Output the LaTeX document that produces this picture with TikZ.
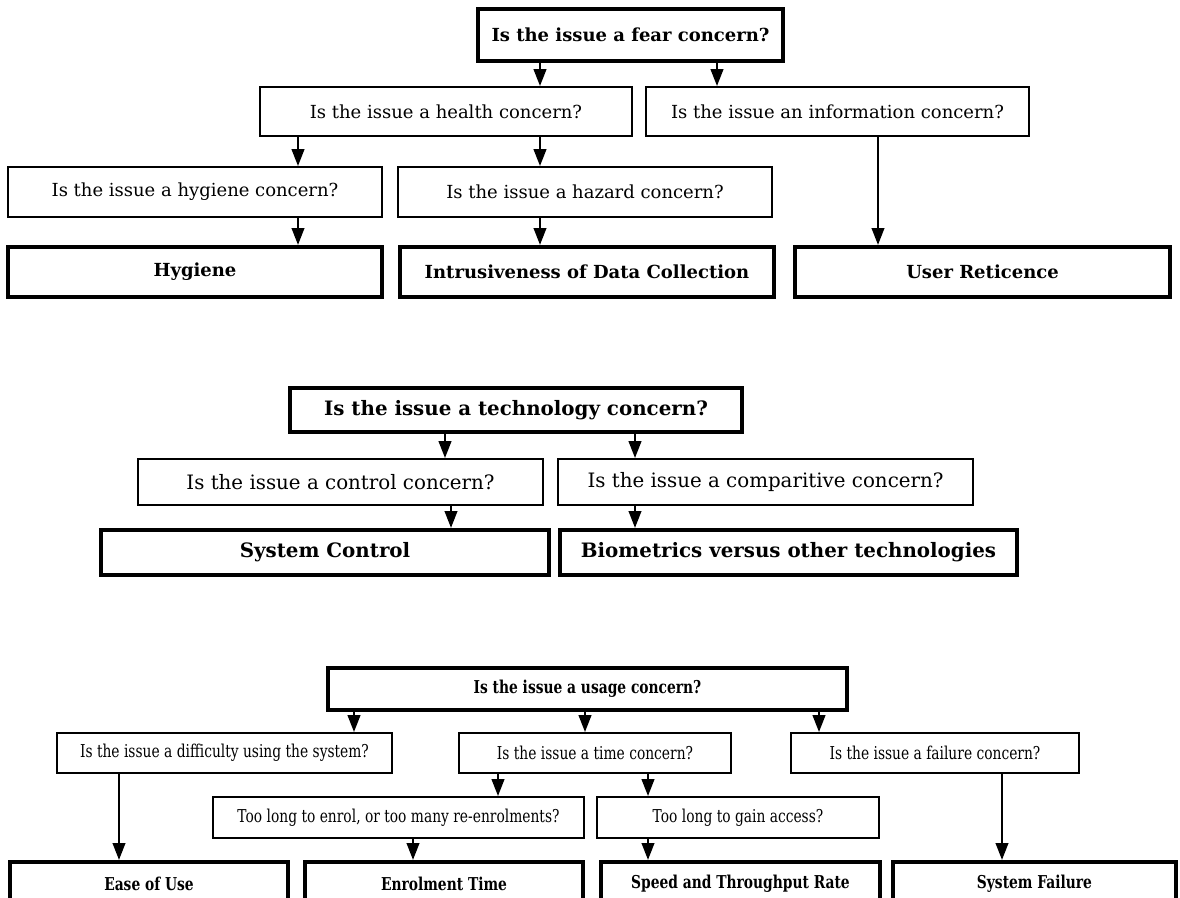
\documentclass[tikz,border=0pt]{standalone}
\usepackage{fontspec}
\setmainfont{DejaVu Serif}
\newfontfamily\narrowfont[FakeStretch=0.78]{DejaVu Serif}
\usepackage{tikz}
\usetikzlibrary{arrows.meta}
\tikzset{
    boxsize/.style 2 args={
        minimum width=#1*0.025cm,
        minimum height=#2*0.025cm
    },
    question/.style={
        draw,
        line width=1.4pt,
        inner sep=0pt
    },
    outcome/.style={
        draw,
        line width=3pt,
        inner sep=0pt,
        execute at begin node=\bfseries
    },
    arr/.style={
        -{Triangle[length=12pt, width=9pt]},
        line width=1.4pt
    }
}

\begin{document}
\begin{tikzpicture}[x=0.025cm, y=-0.025cm]
    \useasboundingbox (0,0) rectangle (1180,898);
    \clip (0,0) rectangle (1180,898);

    % Fear concerns
    \begin{scope}[font=\fontsize{12.8}{15}\selectfont]
    \node[outcome, boxsize={305}{52}] (fear) at (630.5,35) {Is the issue a fear concern?};
    \node[question, boxsize={372}{49}] (health) at (446,111.5) {Is the issue a health concern?};
    \node[question, boxsize={383}{49}] (info) at (837.5,111.5) {Is the issue an information concern?};
    \node[question, boxsize={374}{50}] (hygq) at (195,192) {Is the issue a hygiene concern?};
    \node[question, boxsize={374}{50}] (hazq) at (585,192) {Is the issue a hazard concern?};
    \node[outcome, boxsize={374}{50}] (hyg) at (195,272) {Hygiene};
    \node[outcome, boxsize={374}{50}] (intr) at (587,272) {Intrusiveness of Data Collection};
    \node[outcome, boxsize={375}{50}] (reti) at (982.5,272) {User Reticence};
    \end{scope}

    \foreach \src/\dst/\col in {fear/health/540, fear/info/717, health/hygq/298,
        health/hazq/540, hygq/hyg/298, hazq/intr/540, info/reti/878}
        \draw[arr] (\src.south -| \col,0) -- (\dst.north -| \col,0);

    % Technology concerns
    \begin{scope}[font=\fontsize{14.1}{16}\selectfont]
    \node[outcome, boxsize={452}{44}] (tech) at (516,410) {Is the issue a technology concern?};
    \node[question, boxsize={405}{46}] (ctrlq) at (340.5,482) {Is the issue a control concern?};
    \node[question, boxsize={415}{46}] (compq) at (765.5,482) {Is the issue a comparitive concern?};
    \node[outcome, boxsize={448}{45}] (ctrl) at (325,552.5) {System Control};
    \node[outcome, boxsize={457}{45}] (bio) at (788.5,552.5) {Biometrics versus other technologies};
    \end{scope}

    \foreach \src/\dst/\col in {tech/ctrlq/445, ctrlq/ctrl/451, tech/compq/635, compq/bio/635}
        \draw[arr] (\src.south -| \col,0) -- (\dst.north -| \col,0);

    % Usage concerns
    \begin{scope}[font=\narrowfont\fontsize{12.6}{15}\selectfont]
    \node[outcome, boxsize={519}{42}] (usage) at (587.5,689) {Is the issue a usage concern?};
    \node[question, boxsize={335}{40}] (diffq) at (224.5,753) {Is the issue a difficulty using the system?};
    \node[question, boxsize={272}{40}] (timeq) at (595,753) {Is the issue a time concern?};
    \node[question, boxsize={288}{40}] (failq) at (935,753) {Is the issue a failure concern?};
    \node[question, boxsize={371}{41}] (enrolq) at (398.5,817.5) {Too long to enrol, or too many re-enrolments?};
    \node[question, boxsize={282}{41}] (gainq) at (738,817.5) {Too long to gain access?};
    \node[outcome, boxsize={278}{44}] (ease) at (149,884) {Ease of Use};
    \node[outcome, boxsize={278}{44}] (enrol) at (444,884) {Enrolment Time};
    \node[outcome, boxsize={279}{44}] (speed) at (740.5,884) {Speed and Throughput Rate};
    \node[outcome, boxsize={283}{44}] (sysfail) at (1034.5,884) {System Failure};
    \end{scope}

    \foreach \src/\dst/\col in {usage/diffq/354, usage/timeq/585, usage/failq/819,
        diffq/ease/119, timeq/enrolq/498, timeq/gainq/648, enrolq/enrol/413,
        gainq/speed/648, failq/sysfail/1002}
        \draw[arr] (\src.south -| \col,0) -- (\dst.north -| \col,0);
\end{tikzpicture}
\end{document}
